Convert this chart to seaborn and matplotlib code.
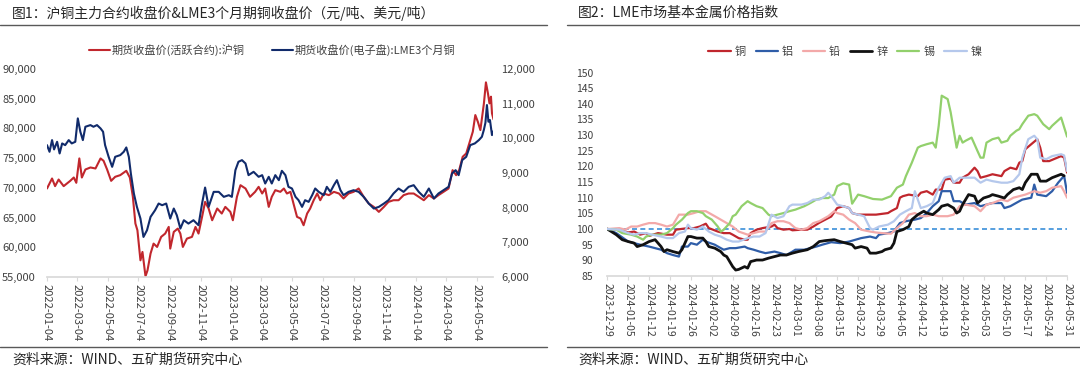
import matplotlib
matplotlib.use("Agg")
import matplotlib.pyplot as plt
import matplotlib.dates as mdates
import matplotlib.ticker as mticker
from matplotlib.lines import Line2D
import pandas as pd
import seaborn as sns

sns.set_theme(style="white")
plt.rcParams["font.family"] = ["Noto Sans CJK SC", "DejaVu Sans"]
plt.rcParams["axes.unicode_minus"] = False

# ---------------- Left chart data (days since 2022-01-04) ----------------
left_start = "2022-01-04"
shfe_label = "期货收盘价(活跃合约):沪铜"
lme_label = "期货收盘价(电子盘):LME3个月铜"
shfe_day = [0, 10, 16, 23, 33, 46, 53, 58, 64, 69, 76, 86, 96, 106, 112, 119, 127, 135, 145, 157,
            164, 170, 175, 179, 185, 189, 195, 199, 205, 211, 218, 226, 234, 241, 244, 251, 259, 264,
            269, 277, 287, 294, 300, 307, 313, 320, 327, 337, 346, 353, 363, 368, 376, 383, 393, 402,
            412, 419, 426, 432, 439, 445, 452, 462, 469, 475, 482, 488, 495, 502, 508, 515, 521, 528,
            535, 541, 548, 558, 568, 578, 587, 597, 607, 617, 627, 637, 647, 657, 667, 676, 686, 696,
            706, 716, 726, 736, 746, 756, 766, 775, 785, 795, 803, 810, 816, 823, 830, 836, 843, 848,
            853, 858, 865, 869, 873, 876, 879, 881, 884]
shfe_val = [69890, 71575, 70290, 71400, 70290, 71180, 71740, 70850, 74950, 71740, 73090, 73430, 73260,
            74950, 74550, 73090, 71180, 71860, 72140, 72870, 71740, 68490, 64000, 62870, 57810, 59220,
            55120, 56130, 58940, 60620, 60060, 61750, 62310, 63430, 59780, 62590, 63150, 62310, 60060,
            61460, 61750, 63430, 62310, 65120, 67640, 66520, 64550, 66520, 65680, 66800, 65960, 64550,
            68490, 70450, 69890, 68490, 69330, 70170, 69050, 69890, 66800, 68490, 69610, 69330, 69890,
            69050, 69330, 67360, 65120, 64840, 63710, 65680, 66520, 67920, 69050, 67920, 69050, 68770,
            69330, 69050, 68210, 69050, 69330, 69890, 68490, 67360, 66800, 65960, 66800, 67640, 67920,
            67920, 68770, 69050, 69050, 68490, 67920, 68770, 68210, 68770, 69330, 69890, 72980, 72140,
            72980, 75230, 75790, 77470, 79440, 82250, 81120, 79720, 84210, 87750, 85900, 84210, 85340,
            82530, 81520]
lme_day = [0, 5, 10, 14, 20, 25, 30, 36, 43, 49, 56, 61, 66, 71, 76, 86, 92, 99, 106, 111, 115, 122,
           129, 135, 145, 152, 157, 162, 166, 172, 178, 185, 191, 198, 205, 214, 221, 228, 236, 244,
           251, 257, 264, 271, 280, 290, 300, 307, 313, 320, 330, 340, 350, 360, 366, 373, 379, 386,
           393, 399, 409, 419, 426, 432, 439, 445, 452, 459, 465, 472, 478, 485, 492, 498, 505, 511,
           518, 525, 531, 538, 548, 554, 561, 568, 574, 581, 587, 597, 607, 617, 627, 637, 647, 657,
           667, 676, 686, 696, 706, 716, 726, 736, 746, 756, 766, 775, 785, 795, 802, 809, 815, 822,
           830, 838, 847, 855, 861, 865, 868, 871, 874, 877, 881, 884]
lme_val = [9804, 9612, 9949, 9680, 9900, 9564, 9853, 9804, 9949, 9853, 9900, 10575, 10190, 9949, 10334,
           10382, 10334, 10382, 10286, 10190, 9804, 9467, 9178, 9467, 9516, 9612, 9737, 9467, 8986, 8408,
           8023, 7686, 7156, 7349, 7734, 7927, 8119, 8071, 8119, 7686, 7975, 7782, 7397, 7638, 7541, 7638,
           7493, 8119, 8581, 8023, 8456, 8456, 8312, 8360, 8312, 9082, 9323, 9371, 9275, 8938, 9034, 8890,
           8938, 8697, 8890, 8697, 8938, 8793, 9063, 8938, 8601, 8553, 8312, 8216, 8023, 8216, 8167, 8360,
           8553, 8456, 8360, 8601, 8456, 8649, 8793, 8504, 8360, 8456, 8504, 8456, 8312, 8119, 7975, 8023,
           8119, 8216, 8408, 8553, 8456, 8601, 8649, 8456, 8312, 8553, 8264, 8408, 8504, 8601, 8986, 9082,
           8938, 9371, 9467, 9804, 9853, 9949, 10045, 10250, 10450, 10960, 10479, 10527, 10093, 10209]
left_ticks = ["2022-01-04", "2022-03-04", "2022-05-04", "2022-07-04", "2022-09-04", "2022-11-04",
              "2023-01-04", "2023-03-04", "2023-05-04", "2023-07-04", "2023-09-04", "2023-11-04",
              "2024-01-04", "2024-03-04", "2024-05-04"]

# ---------------- Right chart data (days since 2023-12-29) ----------------
right_start = "2023-12-29"
metals = ["铜", "铝", "铅", "锌", "锡", "镍"]
cu_day = [0, 4, 7, 9, 11, 13, 14, 17, 20, 22, 23, 27, 29, 31, 33, 34, 37, 39, 41, 42, 44, 46, 47, 48, 50,
          52, 55, 56, 57, 59, 61, 62, 65, 67, 69, 71, 73, 75, 77, 79, 81, 82, 84, 87, 90, 94, 95, 97, 98,
          99, 101, 104, 105, 107, 109, 110, 112, 113, 115, 116, 118, 119, 121, 123, 124, 125, 127, 129,
          132, 133, 135, 137, 138, 139, 140, 142, 144, 145, 146, 148, 152, 153, 154]
cu_val = [100, 99.8, 98.9, 99.2, 98.2, 98.7, 97.8, 98.7, 98.2, 98.2, 99.8, 100.3, 100.3, 100.8, 101.7,
          100.3, 99.2, 98.7, 98.7, 98.2, 97.1, 96.6, 96.6, 98.7, 99.8, 100.3, 100.8, 101.4, 100.3, 99.8,
          100, 99.6, 99.8, 99.8, 100.8, 102, 103, 104, 106.7, 107.3, 106.7, 105.1, 104.6, 104.6, 104.6,
          105.1, 105.7, 106.7, 110, 110.5, 111, 110.5, 111.6, 112.1, 111, 112.6, 112.6, 115.8, 116.1,
          114.8, 114.8, 116.4, 117.5, 119.6, 118.5, 116.4, 116.9, 117.5, 116.9, 118.5, 119.6, 119.1,
          121.2, 121.7, 125.5, 127.1, 128.7, 126, 121.7, 121.7, 123.3, 122.8, 118]
al_day = [0, 3, 7, 9, 11, 14, 18, 20, 22, 24, 25, 27, 28, 30, 32, 33, 36, 38, 39, 41, 43, 46, 47, 49, 51,
          53, 56, 58, 60, 62, 63, 66, 68, 70, 72, 75, 78, 81, 85, 88, 90, 91, 94, 96, 98, 100, 103, 105,
          107, 109, 111, 112, 115, 116, 118, 120, 123, 125, 127, 129, 132, 133, 135, 138, 139, 142, 143,
          144, 147, 149, 151, 153, 154]
al_val = [100, 98.7, 96, 95.5, 95, 94.4, 93.4, 92.3, 91.7, 91.2, 94.4, 94.4, 95.5, 95, 96.6, 96, 95, 93.9,
          93.4, 93.9, 93.9, 94.4, 93.9, 93.4, 92.8, 92.3, 92.8, 92.3, 91.7, 92.8, 93.4, 93.4, 93.9, 94.4,
          95, 95.8, 95.5, 96, 97.1, 97.6, 97.1, 98.2, 98.7, 99.2, 101.9, 102.5, 103, 103.5, 105.1, 107.3,
          108.9, 112.1, 112.1, 108.9, 108.9, 107.8, 108.3, 107.3, 107.8, 108.3, 108.3, 106.7, 107.3, 108.9,
          109.4, 110, 114.2, 111, 110.5, 112.1, 114.8, 117, 111.5]
pb_day = [0, 4, 6, 8, 10, 12, 14, 16, 18, 20, 22, 24, 27, 29, 31, 33, 36, 38, 40, 42, 44, 47, 49, 51, 53,
          55, 57, 59, 61, 63, 65, 67, 69, 71, 74, 76, 77, 79, 81, 83, 85, 88, 90, 92, 95, 97, 99, 101, 103,
          105, 107, 109, 111, 114, 116, 118, 120, 123, 125, 127, 129, 132, 134, 136, 138, 140, 143, 145,
          147, 149, 152, 153, 154]
pb_val = [100, 100.3, 99.8, 100.8, 100.8, 101.4, 101.9, 101.9, 101.4, 100.8, 101.4, 104.6, 104.6, 105.1,
          105.7, 105.7, 104.1, 103, 101.9, 100.8, 99.2, 98.2, 98.7, 99.2, 99.2, 101.9, 102.5, 102.5, 101.9,
          100.3, 99.8, 100.3, 101.9, 102.5, 104.1, 105.7, 105.1, 104.6, 103, 101.9, 99.8, 99.2, 98.9, 98.7,
          98.5, 100.3, 101.9, 104.6, 105.1, 104.1, 104.1, 104.6, 104.1, 104.1, 104.6, 107.3, 107.8, 107.3,
          105.7, 107.8, 108.3, 109.4, 108.9, 110, 110.5, 111, 112.1, 111.6, 112.1, 113.2, 113.7, 112, 110]
zn_day = [0, 3, 5, 7, 9, 10, 12, 14, 16, 18, 19, 20, 22, 24, 25, 27, 28, 30, 32, 33, 34, 36, 38, 39, 40,
          42, 43, 44, 46, 47, 48, 50, 52, 54, 56, 58, 60, 62, 64, 67, 69, 71, 73, 76, 78, 80, 82, 83, 85,
          87, 88, 90, 92, 93, 95, 96, 97, 99, 101, 102, 104, 106, 107, 109, 111, 112, 114, 116, 117, 118,
          119, 120, 121, 123, 124, 126, 128, 129, 131, 133, 134, 136, 138, 139, 140, 142, 144, 145, 147,
          149, 152, 153]
zn_val = [100, 98.2, 96.6, 96, 95.5, 94.4, 95, 96, 96.6, 94.4, 92.8, 93.4, 92.8, 92.3, 93.4, 97.6, 97.6,
          97.1, 97.1, 96, 94.4, 93.9, 92.8, 91.7, 91.2, 88, 86.9, 87.1, 88, 87.5, 89.6, 90.1, 90.1, 90.7,
          91.2, 91.7, 91.7, 92.3, 92.8, 93.4, 94.4, 96, 96.3, 96.6, 96, 95.5, 95, 93.9, 94.4, 93.9, 92.3,
          92.3, 92.8, 93.4, 93.9, 95.5, 99.2, 99.8, 100.8, 103, 104.6, 105.7, 105.1, 104.6, 106.2, 107.3,
          107.8, 106.7, 105.1, 105.7, 107.8, 109.4, 111, 110.5, 108.3, 109.9, 110.5, 111, 110.5, 109.9,
          111, 112.6, 113.2, 112.6, 114.8, 117.5, 117.5, 115.3, 115.3, 116.4, 117.5, 117]
sn_day = [0, 3, 5, 8, 10, 12, 13, 15, 18, 20, 22, 23, 25, 27, 28, 30, 32, 33, 35, 37, 38, 39, 41, 42, 43,
          45, 47, 48, 50, 52, 54, 55, 57, 59, 61, 63, 66, 68, 70, 72, 74, 76, 77, 79, 81, 82, 84, 86, 89,
          92, 95, 97, 99, 100, 102, 104, 105, 107, 109, 110, 111, 112, 114, 115, 117, 118, 119, 120, 122,
          124, 125, 126, 127, 129, 131, 132, 134, 135, 137, 138, 139, 141, 143, 144, 146, 148, 149, 152,
          154]
sn_val = [100, 99.8, 98.7, 98.2, 97.6, 96.6, 97.6, 98.2, 98.2, 98.7, 100.3, 101.4, 103, 105.1, 105.7,
          105.7, 105.1, 104.1, 103, 100.8, 99.2, 99.8, 101.9, 104.1, 104.6, 107.3, 108.9, 108.3, 107.3,
          106.7, 104.6, 104.1, 104.6, 105.1, 105.7, 106.2, 107.3, 108.3, 109.4, 109.9, 109.9, 111, 113.7,
          114.6, 114.2, 108.1, 111, 110.5, 109.6, 109.4, 110.5, 113.2, 114.2, 116.9, 121.2, 126, 126.5,
          127.1, 127.6, 126, 133, 142.6, 141.5, 137.3, 126, 129.8, 127.6, 128.2, 129.2, 124.9, 122.8,
          122.8, 127.6, 128.7, 129.2, 127.6, 128.2, 129.8, 131.4, 131.9, 133.5, 136.2, 136.7, 136.2, 133.5,
          131.9, 133, 135.6, 129.5]
ni_day = [0, 4, 7, 9, 11, 13, 15, 18, 20, 22, 24, 26, 27, 28, 30, 32, 34, 36, 38, 40, 42, 44, 47, 49, 51,
          53, 55, 57, 59, 61, 62, 65, 67, 69, 71, 73, 74, 75, 77, 79, 81, 82, 84, 86, 88, 89, 91, 94, 96,
          98, 100, 102, 103, 105, 107, 109, 111, 113, 115, 116, 118, 120, 123, 125, 127, 129, 132, 134,
          136, 138, 139, 141, 143, 144, 145, 147, 149, 152, 153, 154]
ni_val = [100, 99.8, 98.7, 98.2, 98.7, 98.7, 98.2, 97.6, 97.1, 97.1, 98.7, 99.2, 101.4, 100.3, 99.8,
          100.8, 99.2, 98.2, 97.6, 96.6, 96, 96, 97.1, 97.6, 97.6, 98.7, 104.6, 103.5, 104.1, 107.3, 107.8,
          107.8, 108.3, 109.4, 109.4, 110.5, 111.6, 110.5, 107.8, 107.3, 106.7, 105.1, 104.6, 104.1, 100.3,
          99.8, 100.8, 101.4, 102.5, 104.6, 105.7, 106.7, 112.1, 106.7, 107.3, 108.3, 113.2, 116.4, 116.9,
          114.8, 116.4, 116.4, 116.4, 114.8, 115.8, 115.3, 114.8, 114.8, 115.3, 117.5, 122.8, 128.7, 129.8,
          128.7, 122.8, 122.3, 123.3, 123.9, 123.5, 118.5]
right_ticks_start, right_ticks_end = "2023-12-29", "2024-05-31"

# ---------------- Styling ----------------
RED_L, NAVY = "#C1272D", "#112B6B"
metal_colors = ["#C0262D", "#2F5DA8", "#F3A9A9", "#111111", "#92D06C", "#B5C8EC"]
metal_widths = [1.6, 1.6, 1.6, 2.0, 1.6, 1.6]
TXT = "#404040"
W, H = 1080, 373

fig = plt.figure(figsize=(W / 100, H / 100), dpi=100)

def fx(px):
    return px / W

def fy(py):
    return 1 - py / H

# ---------------- Left chart ----------------
ax1 = fig.add_axes([fx(47), fy(277), fx(446), 208 / H])
ax2 = ax1.twinx()
t0 = pd.Timestamp(left_start)
df_shfe = pd.DataFrame({"date": t0 + pd.to_timedelta(shfe_day, unit="D"), "val": shfe_val})
df_lme = pd.DataFrame({"date": t0 + pd.to_timedelta(lme_day, unit="D"), "val": lme_val})
sns.lineplot(data=df_shfe, x="date", y="val", ax=ax1, color=RED_L, lw=1.5, sort=False,
             estimator=None, legend=False)
sns.lineplot(data=df_lme, x="date", y="val", ax=ax2, color=NAVY, lw=1.5, sort=False,
             estimator=None, legend=False)
ax1.set_xlim(t0, pd.Timestamp("2024-06-05"))
ax1.set_ylim(55000, 90000)
ax1.set_yticks(range(55000, 90001, 5000))
ax2.set_ylim(6000, 12000)
ax2.set_yticks(range(6000, 12001, 1000))
fmt = mticker.FuncFormatter(lambda v, p: f"{v:,.0f}")
ax1.yaxis.set_major_formatter(fmt)
ax2.yaxis.set_major_formatter(fmt)
ax1.set_xticks(pd.to_datetime(left_ticks))
ax1.xaxis.set_major_formatter(mdates.DateFormatter("%Y-%m-%d"))
for a in (ax1, ax2):
    a.set_xlabel("")
    a.set_ylabel("")
    for s in a.spines.values():
        s.set_visible(False)
    a.grid(False)
    a.patch.set_alpha(0)
ax1.spines["bottom"].set_visible(True)
ax1.spines["bottom"].set_color("#D9D9D9")
ax1.tick_params(axis="x", bottom=True, length=3, width=0.8, color="#D9D9D9", pad=2,
                labelsize=8, labelcolor=TXT, labelrotation=-90)
ax1.tick_params(axis="y", left=False, length=0, pad=8, labelsize=8, labelcolor=TXT)
ax2.tick_params(axis="y", right=False, length=0, pad=6, labelsize=8, labelcolor=TXT)
for lab in ax1.get_xticklabels():
    lab.set_ha("center")
    lab.set_va("top")

handles_l = [Line2D([], [], color=RED_L, lw=1.5), Line2D([], [], color=NAVY, lw=1.5)]
fig.legend(handles_l, [shfe_label, lme_label], loc="center", bbox_to_anchor=(fx(272), fy(50)),
           ncol=2, frameon=False, fontsize=8, handlelength=1.9, handletextpad=0.2,
           columnspacing=2.4, labelcolor=TXT)

# ---------------- Right chart ----------------
ax3 = fig.add_axes([fx(607.3), fy(276), fx(459.8), 203.5 / H])
r0 = pd.Timestamp(right_start)
days_list = [cu_day, al_day, pb_day, zn_day, sn_day, ni_day]
vals_list = [cu_val, al_val, pb_val, zn_val, sn_val, ni_val]
for name, d, v, c, w in zip(metals, days_list, vals_list, metal_colors, metal_widths):
    dfm = pd.DataFrame({"date": r0 + pd.to_timedelta(d, unit="D"), "val": v})
    sns.lineplot(data=dfm, x="date", y="val", ax=ax3, color=c, lw=w, sort=False,
                 estimator=None, legend=False)
ax3.axhline(100, color="#3A8FD9", lw=1.2, ls=(0, (3, 2)), zorder=1)
ax3.set_xlim(r0, pd.Timestamp(right_ticks_end))
ax3.set_ylim(85, 150)
ax3.set_yticks(range(85, 151, 5))
ax3.set_xticks(pd.date_range(right_ticks_start, right_ticks_end, freq="7D"))
ax3.xaxis.set_major_formatter(mdates.DateFormatter("%Y-%m-%d"))
ax3.set_xlabel("")
ax3.set_ylabel("")
ax3.grid(False)
for s in ax3.spines.values():
    s.set_visible(False)
ax3.spines["bottom"].set_visible(True)
ax3.spines["bottom"].set_color("#D9D9D9")
ax3.tick_params(axis="x", bottom=True, length=3, width=0.8, color="#D9D9D9", pad=2,
                labelsize=7.5, labelcolor=TXT, labelrotation=-90)
ax3.tick_params(axis="y", left=False, length=0, pad=10, labelsize=7.5, labelcolor=TXT)
for lab in ax3.get_xticklabels():
    lab.set_ha("center")
    lab.set_va("top")

handles_r = [Line2D([], [], color=c, lw=w) for c, w in zip(metal_colors, metal_widths)]
fig.legend(handles_r, metals, loc="center", bbox_to_anchor=(fx(845), fy(52)), ncol=6,
           frameon=False, fontsize=8, handlelength=2.0, handletextpad=0.35, columnspacing=0.9,
           labelcolor=TXT)

# ---------------- Titles, rules, sources ----------------
fig.text(fx(12), fy(13), "图1：沪铜主力合约收盘价&LME3个月期铜收盘价（元/吨、美元/吨）",
         fontsize=10, color="#262626", ha="left", va="center")
fig.text(fx(578), fy(13), "图2：LME市场基本金属价格指数",
         fontsize=10, color="#262626", ha="left", va="center")
for x0, x1 in [(0, 547), (567, 1080)]:
    for yy in (25, 347):
        fig.add_artist(Line2D([fx(x0), fx(x1)], [fy(yy), fy(yy)], transform=fig.transFigure,
                              color="#595959", lw=1.0))
fig.text(fx(12), fy(360), "资料来源：WIND、五矿期货研究中心", fontsize=10, color="#262626",
         ha="left", va="center")
fig.text(fx(578), fy(360), "资料来源：WIND、五矿期货研究中心", fontsize=10, color="#262626",
         ha="left", va="center")

fig.savefig("out.png", dpi=100)
